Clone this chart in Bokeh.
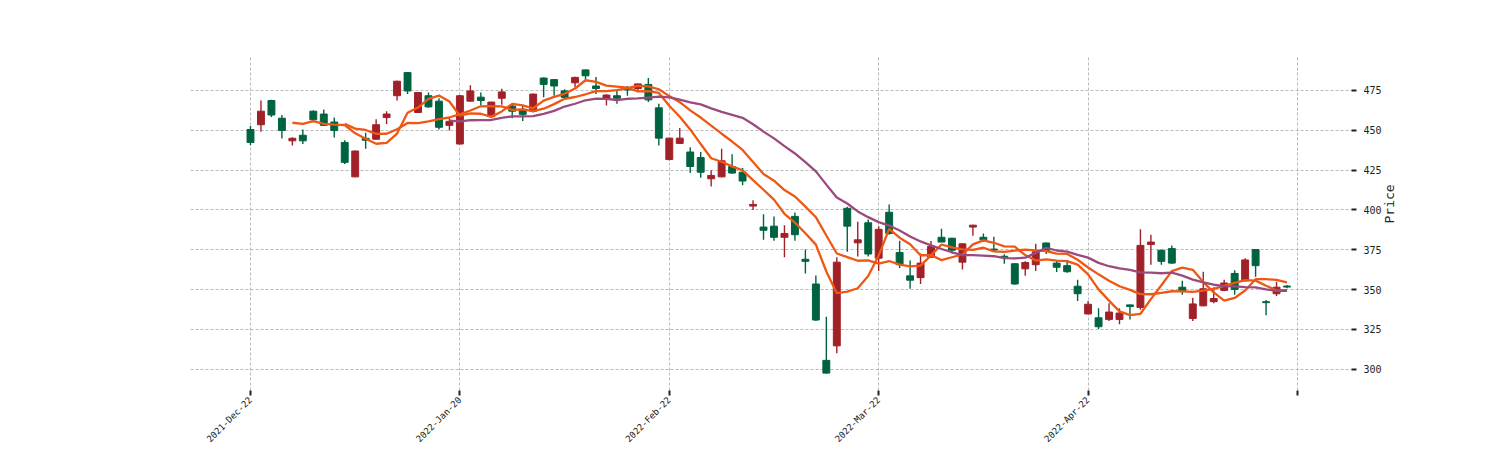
import math
import numpy as np
import pandas as pd
from bokeh.plotting import figure
from bokeh.models import FixedTicker, ColumnDataSource, Range1d
from bokeh.embed import file_html
from bokeh.resources import INLINE

# ---- data (daily candles, index-based x axis) ----
opens = [442.3, 461.9, 459.5, 449.8, 444.9, 443.3, 456.5, 453.0, 449.8, 429.8,
         436.9, 443.7, 453.4, 460.1, 480.7, 474.6, 473.6, 464.6, 451.8, 455.5,
         471.6, 474.6, 468.6, 467.6, 474.0, 461.9, 459.9, 472.6, 478.7, 477.7,
         470.6, 483.1, 484.1, 476.1, 472.0, 470.0, 475.2, 479.0, 469.0, 445.0,
         445.0, 445.0, 427.2, 423.6, 421.6, 430.8, 423.1, 418.1, 403.4, 387.2,
         382.8, 385.2, 384.4, 367.7, 330.9, 297.6, 367.2, 389.8, 381.2, 372.3,
         387.8, 385.2, 365.6, 355.9, 366.6, 377.1, 379.8, 374.7, 378.7, 390.4,
         381.2, 374.8, 370.3, 353.5, 367.0, 373.7, 374.3, 364.0, 361.2, 347.4,
         340.8, 326.7, 335.9, 335.3, 339.4, 377.7, 379.8, 367.7, 366.6, 348.9,
         341.0, 350.5, 344.4, 354.1, 350.1, 368.6, 365.0, 341.8, 351.5, 351.6]
highs = [452.6, 468.6, 469.0, 459.5, 445.5, 450.4, 462.3, 462.9, 457.9, 443.7,
         437.3, 448.4, 456.9, 461.9, 481.0, 486.5, 474.0, 473.6, 470.0, 457.9,
         472.0, 478.1, 473.6, 467.8, 476.0, 466.6, 465.1, 473.0, 483.0, 482.0,
         475.6, 483.5, 488.0, 483.3, 472.5, 474.6, 477.7, 479.2, 482.7, 466.6,
         445.2, 451.4, 439.3, 436.3, 424.8, 438.3, 434.9, 426.2, 406.0, 397.3,
         395.9, 390.4, 398.3, 375.1, 358.9, 332.9, 370.3, 401.9, 392.5, 393.9,
         389.8, 403.4, 380.7, 368.3, 372.7, 380.4, 388.2, 382.5, 379.0, 390.6,
         385.2, 383.2, 372.1, 366.5, 367.7, 378.7, 379.5, 368.3, 367.7, 356.1,
         342.8, 338.3, 341.4, 338.3, 340.6, 387.8, 384.4, 375.0, 377.7, 355.5,
         344.8, 361.2, 351.5, 356.1, 362.2, 369.7, 375.3, 343.4, 354.9, 352.8]
lows = [440.5, 449.0, 458.3, 444.8, 440.3, 441.3, 455.0, 452.6, 445.4, 428.8,
        420.5, 438.3, 444.0, 453.9, 468.6, 472.6, 461.0, 464.0, 450.4, 449.8,
        441.0, 468.0, 465.5, 458.0, 466.0, 457.5, 455.8, 461.1, 470.6, 471.6,
        469.6, 476.7, 481.7, 472.6, 465.5, 466.6, 471.6, 474.6, 467.6, 440.3,
        431.0, 441.5, 423.1, 420.1, 414.7, 420.5, 422.7, 415.5, 399.9, 381.2,
        380.7, 370.3, 380.7, 360.1, 330.3, 297.4, 310.1, 373.7, 370.7, 370.7,
        361.6, 384.4, 363.6, 350.5, 353.5, 370.0, 379.8, 372.7, 362.6, 383.8,
        379.8, 373.7, 366.2, 353.0, 358.6, 361.6, 372.3, 361.0, 360.5, 342.8,
        334.5, 325.3, 330.3, 328.3, 331.3, 337.4, 365.6, 365.6, 366.0, 346.8,
        330.3, 339.6, 341.4, 349.0, 346.8, 355.0, 358.1, 333.9, 346.0, 350.8]
closes = [450.4, 453.4, 468.6, 457.5, 443.3, 446.8, 461.9, 460.1, 455.1, 442.3,
          420.7, 444.9, 444.3, 457.9, 471.6, 486.1, 461.1, 471.6, 468.2, 453.0,
          441.3, 468.2, 470.7, 458.5, 470.0, 465.1, 463.1, 461.9, 482.7, 481.7,
          474.6, 479.7, 487.8, 477.7, 470.0, 471.6, 476.3, 476.1, 478.7, 464.0,
          431.6, 441.7, 436.3, 432.8, 419.5, 420.7, 427.2, 423.6, 402.4, 389.2,
          389.8, 382.8, 395.9, 369.0, 353.5, 305.6, 314.7, 401.0, 379.3, 391.9,
          369.7, 398.5, 373.3, 358.6, 357.5, 370.3, 382.8, 382.2, 367.2, 389.2,
          382.8, 375.4, 370.9, 366.2, 363.0, 365.6, 379.2, 366.6, 365.0, 352.1,
          334.7, 332.3, 331.3, 331.3, 340.4, 338.8, 378.3, 374.7, 375.7, 351.5,
          331.9, 339.8, 342.4, 349.5, 360.1, 355.5, 375.1, 342.4, 347.4, 352.2]

x_tick_positions = [0, 20, 40, 60, 80, 100]
x_tick_labels = ["2021-Dec-22", "2022-Jan-20", "2022-Feb-22", "2022-Mar-22", "2022-Apr-22", ""]
price_ticks = [300, 325, 350, 375, 400, 425, 450, 475]
mav_periods = [5, 10, 20]

# ---- styles ----
UP = "#006340"
DOWN = "#a02128"
MAV_COLORS = ["#ef5714", "#ef5714", "#9b4a7e"]
FONT = "DejaVu Sans Mono"

idx = np.arange(len(closes))
df = pd.DataFrame(dict(i=idx, open=opens, high=highs, low=lows, close=closes))
df["color"] = np.where(df["close"] >= df["open"], UP, DOWN)
df["top"] = df[["open", "close"]].max(axis=1)
df["bottom"] = df[["open", "close"]].min(axis=1)
src = ColumnDataSource(df)

p = figure(width=1500, height=450,
           x_range=Range1d(-5.73, 105.16), y_range=Range1d(286.7, 496.2),
           y_axis_location="right", output_backend="svg", toolbar_location=None,
           min_border_left=190, min_border_right=149, min_border_top=56,
           min_border_bottom=10)
p.outline_line_color = None
p.background_fill_color = "white"
p.border_fill_color = "white"

p.segment(x0="i", y0="low", x1="i", y1="high", line_color="color",
          line_width=1.4, source=src)
p.vbar(x="i", width=0.66, top="top", bottom="bottom", fill_color="color",
       line_color="color", line_width=1, source=src)

close_s = pd.Series(closes)
for n, c in zip(mav_periods, MAV_COLORS):
    ma = close_s.rolling(n).mean()
    p.line(idx, ma.values, line_color=c, line_width=2.3)

# axes
p.xaxis.ticker = FixedTicker(ticks=x_tick_positions)
p.xaxis.major_label_overrides = {k: v for k, v in zip(x_tick_positions, x_tick_labels)}
p.xaxis.major_label_orientation = math.pi / 4
p.yaxis.ticker = FixedTicker(ticks=price_ticks)
p.yaxis.axis_label = "Price"
try:
    p.yaxis.axis_label_orientation = math.pi / 2
except Exception:
    pass

for ax in (p.xaxis[0], p.yaxis[0]):
    ax.axis_line_color = None
    ax.major_tick_line_color = "#222222"
    ax.major_tick_line_width = 2
    ax.major_tick_out = 5
    ax.major_tick_in = 0
    ax.minor_tick_line_color = None
    ax.major_label_text_font = FONT
    ax.major_label_text_font_size = "10px"
    ax.major_label_text_color = "#222222"
    ax.axis_label_text_font = FONT
    ax.axis_label_text_font_size = "13px"
    ax.axis_label_text_font_style = "normal"
    ax.axis_label_text_color = "#222222"

p.xaxis.major_label_text_font_size = "9px"
p.xaxis.major_label_standoff = 3
p.yaxis.major_label_standoff = 7

p.xgrid.ticker = FixedTicker(ticks=x_tick_positions)
p.ygrid.ticker = FixedTicker(ticks=price_ticks)
for g in (p.xgrid[0], p.ygrid[0]):
    g.grid_line_color = "#a8a8a8"
    g.grid_line_dash = "3 2"
    g.grid_line_width = 0.8

open("out.html", "w").write(file_html(p, INLINE))
